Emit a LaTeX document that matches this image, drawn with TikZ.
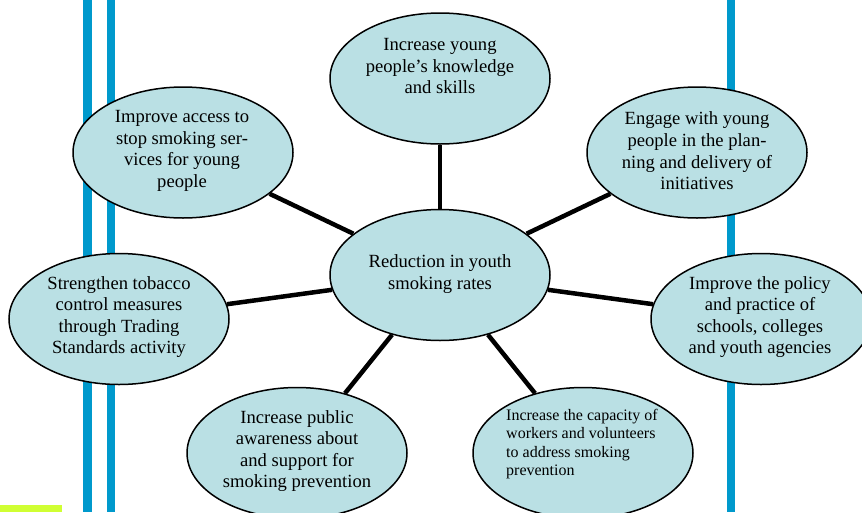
\documentclass[tikz,border=0pt]{standalone}
\usepackage{fontspec}
\setmainfont{Liberation Serif}
\usetikzlibrary{shapes.geometric}
\definecolor{bubble}{RGB}{186,224,228}
\definecolor{barblue}{RGB}{0,153,204}
\definecolor{lime}{RGB}{208,255,51}
\tikzset{
  bubble/.style={ellipse, draw=black, line width=1.5pt, fill=bubble, minimum width=220pt, minimum height=131pt, inner sep=0pt},
  spoke/.style={line width=4.5pt, black},
  txt/.style={inner sep=0pt, align=center, font=\fontsize{18.6}{21.6}\selectfont},
  smalltxt/.style={inner sep=0pt, align=left, font=\fontsize{16}{18.4}\selectfont},
  bar/.style={fill=barblue, draw=none}
}
\begin{document}
\begin{tikzpicture}[x=1pt,y=-1pt]
\useasboundingbox (0,0) rectangle (862,512);
\clip (0,0) rectangle (862,512);
\fill[white] (0,0) rectangle (862,512);
% vertical bars
\fill[bar] (83.3,0) rectangle (91.7,512);
\fill[bar] (106.7,0) rectangle (115,512);
\fill[bar] (726.7,0) rectangle (735,512);
\fill[lime] (0,505) rectangle (62,512);
% bubbles
\node[bubble] (c)  at (440,275) {};
\node[bubble] (t)  at (440,78.5) {};
\node[bubble] (ul) at (183,152.5) {};
\node[bubble] (ur) at (697,152.5) {};
\node[bubble] (l)  at (119,319) {};
\node[bubble] (r)  at (761,319) {};
\node[bubble] (bl) at (297,453) {};
\node[bubble] (br) at (583,453) {};
% spokes
\foreach \n in {t,ul,ur,l,r,bl,br} \draw[spoke] (c) -- (\n);
% texts
\node[txt] (tc)  at (440,274) {Reduction in youth\\smoking rates};
\node[txt] (tt)  at (440,66) {Increase young\\people’s knowledge\\and skills};
\node[txt] (tul) at (182,151) {Improve access to\\stop smoking ser-\\vices for young\\people};
\node[txt] (tur) at (697,151) {Engage with young\\people in the plan-\\ning and delivery of\\initiatives};
\node[txt] (tl)  at (119,317) {Strengthen tobacco\\control measures\\through Trading\\Standards activity};
\node[txt] (tr)  at (760,317) {Improve the policy\\and practice of\\schools, colleges\\and youth agencies};
\node[txt] (tbl) at (297,451) {Increase public\\awareness about\\and support for\\smoking prevention};
\node[smalltxt,anchor=west] (tbr) at (506,444) {Increase the capacity of\\workers and volunteers\\to address smoking\\prevention};
\end{tikzpicture}
\end{document}
